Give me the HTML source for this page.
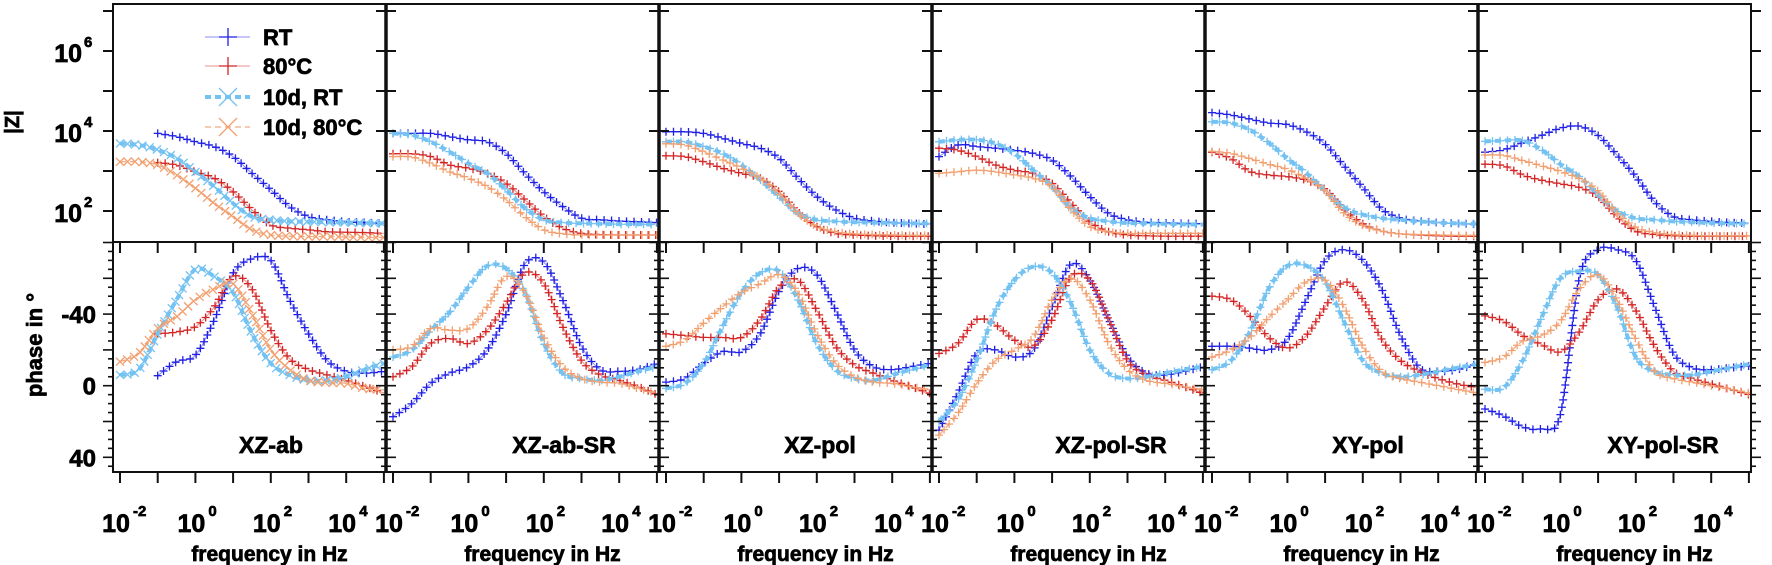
<!DOCTYPE html>
<html><head><meta charset="utf-8"><style>
body{margin:0;background:#fff}
svg{display:block;font-family:"Liberation Sans",Arial,sans-serif;font-weight:bold}
svg text{stroke:#000;stroke-width:0.7px}
</style></head><body>
<svg id="chart" width="1772" height="565" viewBox="0 0 1772 565"></svg>
<script>
const logf=[-2,-1.5,-1,-0.5,0,0.5,1,1.5,2,2.5,3,3.5,4,4.5,5];
const panelNames=["XZ-ab","XZ-ab-SR","XZ-pol","XZ-pol-SR","XY-pol","XY-pol-SR"];
const seriesNames=["RT"," 80°C","10d, RT","10d, 80°C"];
const zTickLabels=["2","4","6"];
const phaseTickLabels=["-40","0","40"];
const freqTickLabels=["-2","0","2","4"];
// log10 |Z| per panel
const zRT=[
[null,null,3.94,3.86,3.73,3.61,3.36,2.94,2.53,2.11,1.86,1.78,1.73,1.71,1.69],
[3.94,3.94,3.94,3.86,3.78,3.73,3.44,2.94,2.48,2.11,1.82,1.78,1.75,1.73,1.71],
[3.98,3.98,3.94,3.82,3.69,3.57,3.32,2.82,2.36,2.03,1.82,1.75,1.71,1.69,1.67],
[3.36,3.65,3.61,3.57,3.52,3.44,3.27,2.86,2.36,1.94,1.78,1.72,1.7,1.69,1.68],
[4.46,4.4,4.3,4.2,4.16,3.98,3.67,3.13,2.59,2.05,1.82,1.75,1.71,1.69,1.67],
[3.47,3.53,3.71,3.89,4.07,4.12,3.89,3.4,2.86,2.23,1.86,1.78,1.74,1.71,1.7]];
const z80=[
[null,null,3.21,3.15,2.98,2.82,2.48,2.03,1.65,1.57,1.53,1.48,1.47,1.46,1.44],
[3.43,3.43,3.36,3.15,3.07,2.94,2.69,2.28,1.86,1.57,1.44,1.41,1.4,1.4,1.4],
[3.38,3.36,3.23,3.07,2.94,2.82,2.48,1.98,1.61,1.44,1.4,1.38,1.37,1.37,1.37],
[3.57,3.52,3.36,3.15,3.02,2.94,2.69,2.19,1.73,1.48,1.4,1.38,1.37,1.37,1.37],
[3.47,3.31,2.99,2.9,2.86,2.77,2.54,2.05,1.68,1.5,1.43,1.4,1.38,1.37,1.37],
[3.17,3.13,2.9,2.77,2.68,2.59,2.36,1.86,1.5,1.41,1.38,1.37,1.37,1.37,1.37]];
const z10RT=[
[3.69,3.65,3.53,3.32,2.98,2.61,2.19,1.86,1.78,1.74,1.73,1.72,1.71,1.7,1.69],
[3.94,3.9,3.73,3.48,3.19,2.94,2.53,2.07,1.78,1.71,1.69,1.68,1.67,1.67,1.66],
[3.73,3.73,3.61,3.44,3.15,2.78,2.36,1.94,1.78,1.74,1.72,1.71,1.7,1.69,1.69],
[3.73,3.78,3.78,3.69,3.44,3.02,2.61,2.07,1.82,1.74,1.7,1.69,1.68,1.67,1.66],
[4.23,4.2,4.03,3.71,3.31,2.95,2.5,2.09,1.91,1.82,1.78,1.74,1.71,1.69,1.68],
[3.74,3.76,3.76,3.53,3.17,2.86,2.41,2.0,1.82,1.78,1.74,1.72,1.7,1.69,1.68]];
const z10_80=[
[3.23,3.23,3.15,2.9,2.57,2.19,1.86,1.53,1.4,1.37,1.36,1.36,1.35,1.34,1.34],
[3.36,3.35,3.19,2.98,2.82,2.61,2.28,1.86,1.53,1.43,1.4,1.4,1.4,1.4,1.4],
[3.68,3.65,3.48,3.28,3.07,2.82,2.44,1.94,1.61,1.48,1.43,1.41,1.4,1.39,1.39],
[2.94,2.98,3.02,2.98,2.9,2.82,2.61,2.03,1.61,1.48,1.44,1.44,1.44,1.44,1.44],
[3.49,3.44,3.31,3.17,3.04,2.81,2.5,1.95,1.64,1.5,1.43,1.41,1.4,1.39,1.39],
[3.4,3.39,3.26,3.13,2.99,2.81,2.5,1.95,1.59,1.46,1.41,1.39,1.38,1.38,1.38]];
// phase in degrees per panel
const phRT=[
[null,null,-5.6,-13.4,-17,-36.7,-62.8,-71,-70,-47.9,-29,-14,-8,-7,-8],
[17.3,10,-1.3,-7,-10.6,-20,-40,-68,-69,-48,-22,-9,-8,-9,-12.5],
[-2,-4,-12.5,-19,-19,-29,-53,-65.5,-62,-42,-20,-10.6,-9,-10.6,-12.5],
[24.8,4.3,-18,-20,-16,-20,-44,-68,-59,-37,-16,-7,-6,-8,-10.6],
[-22,-22,-21,-20,-26,-48,-70,-76,-70,-54,-28,-10,-8,-9,-12],
[13,17,23,24,16,-60,-76,-76,-70,-44,-18,-10,-9,-10,-11]];
const ph80=[
[null,null,-29,-30,-33,-44,-61,-54,-31,-15,-9,-6,-3,0.5,4],
[-5,-10.6,-23.6,-26.4,-23.6,-31,-46,-63,-57,-33,-14,-6,-3,0.5,5],
[-29,-28,-27,-27,-27,-37,-55,-59,-42,-22,-11.5,-7,-3,0.5,4.3],
[-18,-23.6,-37,-34,-25.5,-22,-37,-61,-59,-37,-14,-6,-3,0.5,4.3],
[-50,-48,-39,-27,-21,-28,-44,-58,-48,-26,-14,-8,-4,-1,1],
[-39,-36,-28,-23,-19,-30,-48,-54,-42,-22,-8,-4,-1,2,5]];
const ph10RT=[
[-6,-9,-29,-48,-65,-61,-52,-29,-12.5,-6,-3,-3,-5,-9,-12.5],
[-16,-20,-31,-41,-55,-67,-65.5,-52,-23.6,-7,-4,-3,-5,-8,-10.6],
[1.5,-1.3,-12.5,-33,-52,-63,-64,-48,-23.6,-9,-4,-3,-6,-9,-11.5],
[20,8,-14,-42,-59,-66.5,-63,-46,-20,-7,-4,-5,-7,-9,-10.6],
[-9,-14,-30,-54,-67,-67,-58,-36,-14,-7,-5,-6,-8,-10,-12],
[2,1,-14,-38,-60,-64,-62,-44,-16,-8,-6,-6,-8,-10,-12]];
const ph10_80=[
[-13.4,-18,-32,-38.5,-48,-54,-57,-40,-20,-9,-3,-1.7,-1.3,1.5,2.4],
[-20,-22,-32,-31,-32,-44,-61,-52,-27,-10.6,-4,-2,-1.3,1.5,4.3],
[-22,-25.5,-35,-44,-52,-57,-62,-52,-29,-12.5,-5,-2,-1.3,0.5,2.4],
[27.6,15.5,-1.3,-14,-20,-27,-48,-60,-48,-23.6,-9,-3,-1.3,0.5,2.4],
[-16,-20,-27,-38,-48,-58,-59,-44,-22,-8,-4,-2,0,2,4],
[-13,-16,-25,-28,-36,-54,-62,-48,-26,-8,-4,-2,0,2,4]];

const svg=document.getElementById('chart');
const NS="http://www.w3.org/2000/svg";
function mk(tag,attrs,parent){const e=document.createElementNS(NS,tag);for(const k in attrs)e.setAttribute(k,attrs[k]);(parent||svg).appendChild(e);return e;}
const P0=113,PW=273,TOP=4,MID=242,BOT=472;
const xS=(i,l)=>P0+i*PW+7+(l+2)*37.7;
const yZ=l=>131-(l-4)*40;
const yP=p=>385.7+1.79*p;
const styles=[
 {line:'#8c8cf0',mk:'#1f1fe6',w:1,dash:'',sym:'+'},
 {line:'#e89090',mk:'#d42424',w:1,dash:'',sym:'+'},
 {line:'#74c2f2',mk:'#74c2f2',w:4,dash:'6,4',sym:'x'},
 {line:'#f2aa80',mk:'#f2a070',w:1.3,dash:'6,4',sym:'x'}];

function smoothPath(pts){
 let d=`M${pts[0][0]},${pts[0][1]}`;
 for(let k=0;k<pts.length-1;k++){
  const p0=pts[Math.max(0,k-1)],p1=pts[k],p2=pts[k+1],p3=pts[Math.min(pts.length-1,k+2)];
  const c1=[p1[0]+(p2[0]-p0[0])/6,p1[1]+(p2[1]-p0[1])/6],c2=[p2[0]-(p3[0]-p1[0])/6,p2[1]-(p3[1]-p1[1])/6];
  d+=` C${c1[0]},${c1[1]} ${c2[0]},${c2[1]} ${p2[0]},${p2[1]}`;
 }
 return d;
}
function marker(g,x,y,st,sym,s){
 const m=mk('path',{d: sym==='x'?`M${x-s},${y-s}L${x+s},${y+s}M${x-s},${y+s}L${x+s},${y-s}`:`M${x-s},${y}H${x+s}M${x},${y-s}V${y+s}`,stroke:st.mk,'stroke-width':1.3,fill:'none'},g);
 
 
}
function drawSeries(g,i,vals,ys,si,name){
 const st=styles[si];
 const pts=[];vals.forEach((v,k)=>{if(v!==null)pts.push([xS(i,logf[k]),ys(v)]);});
 const p=mk('path',{d:smoothPath(pts),stroke:st.line,'stroke-width':st.w,fill:'none','stroke-dasharray':st.dash},g);
 
 
 const L=p.getTotalLength();const sym=(i===0&&si>=2)?'x':'+';
 for(let s=0;s<=L;s+=7.5){const q=p.getPointAtLength(s);marker(g,q.x,q.y,st,sym,4);}
}
const dZ=[zRT,z80,z10RT,z10_80],dP=[phRT,ph80,ph10RT,ph10_80];
const keys=['rt','80c','10d-rt','10d-80c'];
for(let i=0;i<6;i++){
 const x0=P0+i*PW,x1=x0+PW;
 const cp=mk('clipPath',{id:'ct'+i});mk('rect',{x:x0,y:TOP,width:PW,height:MID-TOP},cp);
 const cb=mk('clipPath',{id:'cb'+i});mk('rect',{x:x0,y:MID,width:PW,height:BOT-MID},cb);
 const gt=mk('g',{'clip-path':`url(#ct${i})`});
 const gb=mk('g',{'clip-path':`url(#cb${i})`});
 for(let s=0;s<4;s++){drawSeries(gt,i,dZ[s][i],yZ,s,'impedance-line-'+keys[s]);drawSeries(gb,i,dP[s][i],yP,s,'phase-line-'+keys[s]);}
 const fr=mk('rect',{x:x0,y:TOP,width:PW,height:MID-TOP,fill:'none',stroke:'#111','stroke-width':2});
 const fb=mk('rect',{x:x0,y:MID,width:PW,height:BOT-MID,fill:'none',stroke:'#111','stroke-width':2});
 if(i>0)mk('line',{x1:x0,y1:TOP,x2:x0,y2:BOT,stroke:'#111','stroke-width':3.5});
 for(const ex of [x0,...(i===5?[x1]:[])]){
  for(let l=2;l<=7;l++){const y=yZ(l);mk('line',{x1:ex-(i===0&&ex===x0?10:(ex===x1?0:10)),y1:y,x2:ex+(ex===x1?10:(i===0?0:10)),y2:y,stroke:'#111','stroke-width':2});}
  for(let p=-80;p<=45;p+=5){const y=yP(p);const len=(p%20===0)?10:5;mk('line',{x1:ex-(ex===x1?0:len),y1:y,x2:ex+(ex===x1||i>0?len:0),y2:y,stroke:'#111','stroke-width':1.6});}
 }
 for(let l=-2;l<=5;l++){const x=xS(i,l);if(x>x1+1)continue;
  mk('line',{x1:x,y1:MID,x2:x,y2:MID+11,stroke:'#111','stroke-width':2});
  mk('line',{x1:x,y1:BOT,x2:x,y2:BOT+11,stroke:'#111','stroke-width':2});}
 freqTickLabels.forEach(t=>{const x=xS(i,+t);
  const tx=mk('text',{x:x-4,y:532,'font-size':25,'text-anchor':'middle'});tx.textContent='10';
  
  const sp=mk('text',{x:x+13,y:516,'font-size':15,'text-anchor':'start'});sp.textContent=t;
  });
 const xl=mk('text',{x:x0+PW/2+20,y:561,'font-size':21,'text-anchor':'middle'});xl.textContent='frequency in Hz';
 
 const offs=[158,178,161,179,163,185];
 const pn=mk('text',{x:x0+offs[i],y:453,'font-size':23,'text-anchor':'middle'});pn.textContent=panelNames[i];
 
}
zTickLabels.forEach(t=>{const y=yZ(+t);
 const a=mk('text',{x:82,y:y+11,'font-size':25,'text-anchor':'end'});a.textContent='10';
 
 const b=mk('text',{x:84,y:y-4,'font-size':15});b.textContent=t;
 });
phaseTickLabels.forEach(t=>{const y=yP(+t);
 const a=mk('text',{x:96,y:y+9,'font-size':24,'text-anchor':'end'});a.textContent=t;
 });
const yt=mk('text',{x:0,y:0,'font-size':20,'text-anchor':'middle',transform:'translate(19,122) rotate(-90)'});yt.textContent='|Z|';

const yt2=mk('text',{x:0,y:0,'font-size':22,'text-anchor':'middle',transform:'translate(42,345) rotate(-90)'});yt2.textContent='phase in °';

const lg=mk('g',{});
seriesNames.forEach((n,s)=>{const y=[37,66,97,127][s],st=styles[s];
 const e=mk('g',{},lg);
 mk('line',{x1:205,y1:y,x2:250,y2:y,stroke:st.line,'stroke-width':st.w,'stroke-dasharray':st.dash},e);
 const s2=9;mk('path',{d:s>=2?`M${228-s2},${y-s2}L${228+s2},${y+s2}M${228-s2},${y+s2}L${228+s2},${y-s2}`:`M${228-s2},${y}H${228+s2}M228,${y-s2}V${y+s2}`,stroke:st.mk,'stroke-width':1.3,fill:'none'},e);
 const t=mk('text',{x:263,y:y+8,'font-size':22},e);t.textContent=n;});
</script>
</body></html>
